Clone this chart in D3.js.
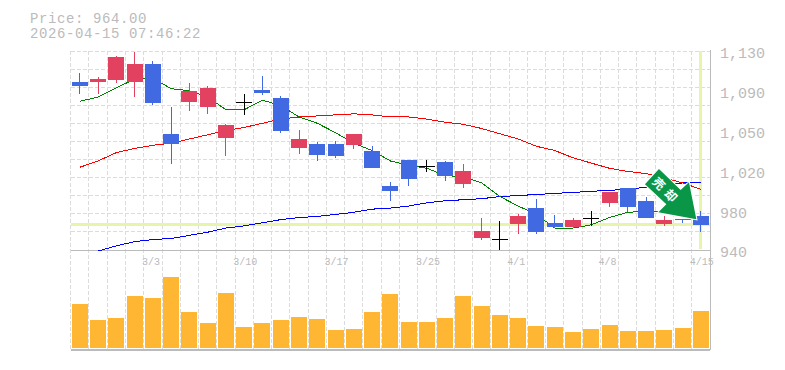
<!DOCTYPE html>
<html>
<head>
<meta charset="utf-8">
<script src="https://d3js.org/d3.v7.min.js"></script>
<style>
  html, body { margin: 0; padding: 0; background: #fff; overflow: hidden; }
  svg { display: block; }
  text { font-family: "Liberation Mono", monospace; fill: #bbb; }
</style>
</head>
<body>
<svg id="chart" width="785" height="370"></svg>
<script>
const opens  = [1100,1100,1102,1100,1118,1051,1081,1077,1047,1081,1093,1085,1037,1041,1041,1040,1035,1001,1026,1020,1024,1003,951,950,965,980,966,962,970,985,999,987,965,970,972];
const closes = [1097,1103,1124,1118,1080,1041,1092,1095,1059,1081,1090,1054,1046,1031,1030,1051,1018,996,1008,1020,1011,1015,958,950,972,957,962,969,970,995,981,971,969,969,964];
const highs  = [1109,1105,1125,1129,1120,1077,1099,1097,1060,1089,1106,1087,1055,1043,1044,1051,1039,1005,1026,1026,1025,1022,971,968,974,989,973,971,977,995,999,991,972,970,977];
const lows   = [1089,1089,1099,1086,1078,1022,1073,1070,1030,1069,1088,1052,1032,1025,1028,1036,1018,987,1001,1014,1006,999,950,940,955,955,961,961,963,981,976,971,963,966,957];

const maShort = [1082,1086,1095,1103,1104,1094,1092,1086,1074,1074,1083,1078,1067,1061,1052,1042,1035,1025,1021,1018,1011,1010,1004,991,982,974,961,961,964,971,976,977,976,973,971];
const maMid   = [1019,1025,1033,1037,1040,1042,1046,1050,1054,1057,1061,1065,1067,1068,1069,1070,1069,1067,1067,1065,1062,1060,1056,1051,1046,1039,1035,1028,1023,1018,1015,1013,1009,1004,998];
const maLong  = [null,939,944,948,950,951,954,957,961,963,966,969,971,972,974,976,979,980,982,985,987,988,989,991,992,993,994,995,996,997,998,1000,1002,1004,1004];

const volumes = [44,28,30,52,50,71,36,25,55,21,25,28,31,29,18,19,36,54,26,26,30,52,42,33,30,22,21,16,19,23,17,17,18,20,37];

const dateLabels = ["3/3","3/10","3/17","3/25","4/1","4/8","4/15"];
const dateIndexes = [4,9,14,19,24,29,34];
const priceTicks = [940,978,1016,1054,1092,1130];
const priceLabels = ["940","980","1,020","1,050","1,090","1,130"];
const lastPrice = 964;
const headerLines = ["Price: 964.00","2026-04-15 07:46:22"];

const upColor = "#e2425f", downColor = "#4169e1", dojiColor = "#000";
const indexes = d3.range(opens.length);

const svg = d3.select("#chart");
const left = 70.7, right = 710, priceTop = 51, priceBottom = 250, volBottom = 348.4, volAxis = 349.5;

const x = d3.scaleBand().domain(indexes).range([left, right]).paddingInner(0.124).paddingOuter(0.062);
const cx = i => x(i) + x.bandwidth() / 2;
const y = d3.scaleLinear().domain([940, 1130]).range([priceBottom, priceTop]);
const yVol = d3.scaleLinear().domain([0, 100]).range([volBottom, volBottom - 100]);
const xGrid = d3.scaleLinear().domain([0, indexes.length]).range([left, right]);
const yGrid = d3.scaleLinear().domain([0, 11]).range([priceBottom, priceTop]);

// grid
const grid = svg.append("g").attr("stroke", "#dcdcdc").attr("stroke-dasharray", "4,2").attr("shape-rendering", "crispEdges");
grid.selectAll(".gx").data(d3.range(0, indexes.length)).join("line")
  .attr("x1", d => xGrid(d)).attr("x2", d => xGrid(d))
  .attr("y1", priceTop).attr("y2", volAxis);
grid.selectAll(".gy").data(d3.range(1, 12)).join("line")
  .attr("x1", left).attr("x2", right)
  .attr("y1", d => yGrid(d)).attr("y2", d => yGrid(d));

// last price highlight
const hl = svg.append("g").attr("stroke", "#e6f5aa").attr("stroke-width", 3).attr("shape-rendering", "crispEdges");
hl.append("line").attr("x1", left).attr("x2", right).attr("y1", y(lastPrice)).attr("y2", y(lastPrice));
hl.append("line").attr("x1", cx(34)).attr("x2", cx(34)).attr("y1", priceTop).attr("y2", priceBottom - 1);

// panel borders
const border = svg.append("g").attr("stroke", "#bbb").attr("shape-rendering", "crispEdges");
border.append("line").attr("x1", left).attr("x2", right).attr("y1", priceBottom).attr("y2", priceBottom);
border.append("line").attr("x1", left).attr("x2", right).attr("y1", volAxis).attr("y2", volAxis).attr("stroke-width", 2);
border.append("line").attr("x1", right).attr("x2", right).attr("y1", priceTop - 1).attr("y2", volAxis);

// moving averages
const line = d3.line().defined(d => d != null).x((d, i) => cx(i)).y(d => y(d));
[[maLong, "#0000ff"], [maMid, "#ff0000"], [maShort, "#008000"]].forEach(([values, color]) => {
  svg.append("path").datum(values)
    .attr("fill", "none").attr("stroke", color).attr("stroke-width", 1)
    .attr("shape-rendering", "crispEdges").attr("d", line);
});

// candles
const candleColor = i => closes[i] > opens[i] ? upColor : closes[i] < opens[i] ? downColor : dojiColor;
const candles = svg.append("g").attr("shape-rendering", "crispEdges");
candles.selectAll(".wick").data(indexes).join("line")
  .attr("x1", cx).attr("x2", cx)
  .attr("y1", i => y(highs[i])).attr("y2", i => y(lows[i]))
  .attr("stroke", candleColor).attr("stroke-width", 1);
candles.selectAll(".body").data(indexes.filter(i => opens[i] !== closes[i])).join("rect")
  .attr("x", i => x(i)).attr("width", x.bandwidth())
  .attr("y", i => y(Math.max(opens[i], closes[i])))
  .attr("height", i => Math.abs(y(opens[i]) - y(closes[i])))
  .attr("fill", candleColor);
candles.selectAll(".doji").data(indexes.filter(i => opens[i] === closes[i])).join("line")
  .attr("x1", i => x(i)).attr("x2", i => x(i) + x.bandwidth())
  .attr("y1", i => y(opens[i])).attr("y2", i => y(opens[i]))
  .attr("stroke", dojiColor).attr("stroke-width", 1);

// volume
svg.append("g").attr("shape-rendering", "crispEdges").selectAll("rect").data(indexes).join("rect")
  .attr("x", i => x(i)).attr("width", x.bandwidth())
  .attr("y", i => yVol(volumes[i])).attr("height", i => yVol(0) - yVol(volumes[i]))
  .attr("fill", "#ffb733");

// axes
const yAxis = d3.axisRight(y).tickValues(priceTicks)
  .tickFormat(d => priceLabels[priceTicks.indexOf(d)]).tickSize(0).tickPadding(10);
const yG = svg.append("g").attr("transform", `translate(${right},0)`).call(yAxis);
yG.select(".domain").remove();
yG.selectAll("text").attr("y", 2).attr("font-size", 15).style("font-family", '"Liberation Mono", monospace').attr("fill", "#bbb");

const xAxis = d3.axisBottom(x).tickValues(dateIndexes)
  .tickFormat(d => dateLabels[dateIndexes.indexOf(d)]).tickSize(0).tickPadding(8);
const xG = svg.append("g").attr("transform", `translate(0,${priceBottom})`).call(xAxis);
xG.select(".domain").remove();
xG.selectAll("text").attr("text-anchor", "start").attr("x", -11)
  .attr("font-size", 10).style("font-family", '"Liberation Mono", monospace').attr("fill", "#bbb");

// header
svg.selectAll(".head").data(headerLines).join("text")
  .attr("x", 30).attr("y", (d, i) => 23 + i * 15)
  .attr("font-size", 14).attr("letter-spacing", 0.6).text(d => d);

// sell arrow, points relative to its tip
const tipX = cx(34) - 4.5, tipY = y(lastPrice) - 5.5;
const arrow = svg.append("g").attr("transform", `translate(${tipX},${tipY})`);
const arrowShape = [[-37.4,-50.3],[-51.4,-35],[-30,-15],[-38,-7],[0,0],[-7.4,-37],[-15.7,-29.3]];
arrow.append("polygon").attr("points", arrowShape.join(" "))
  .attr("fill", "#0a9647").attr("stroke", "#fff").attr("stroke-width", 2).attr("paint-order", "stroke");
arrow.append("text").attr("transform", "translate(-29.7,-27.8) rotate(45)")
  .attr("text-anchor", "middle").attr("dy", "0.36em").attr("letter-spacing", 5)
  .attr("font-size", 12).attr("font-weight", 700)
  .style("font-family", '"Noto Sans CJK JP"').style("fill", "#fff").text("売却");
</script>
</body>
</html>
